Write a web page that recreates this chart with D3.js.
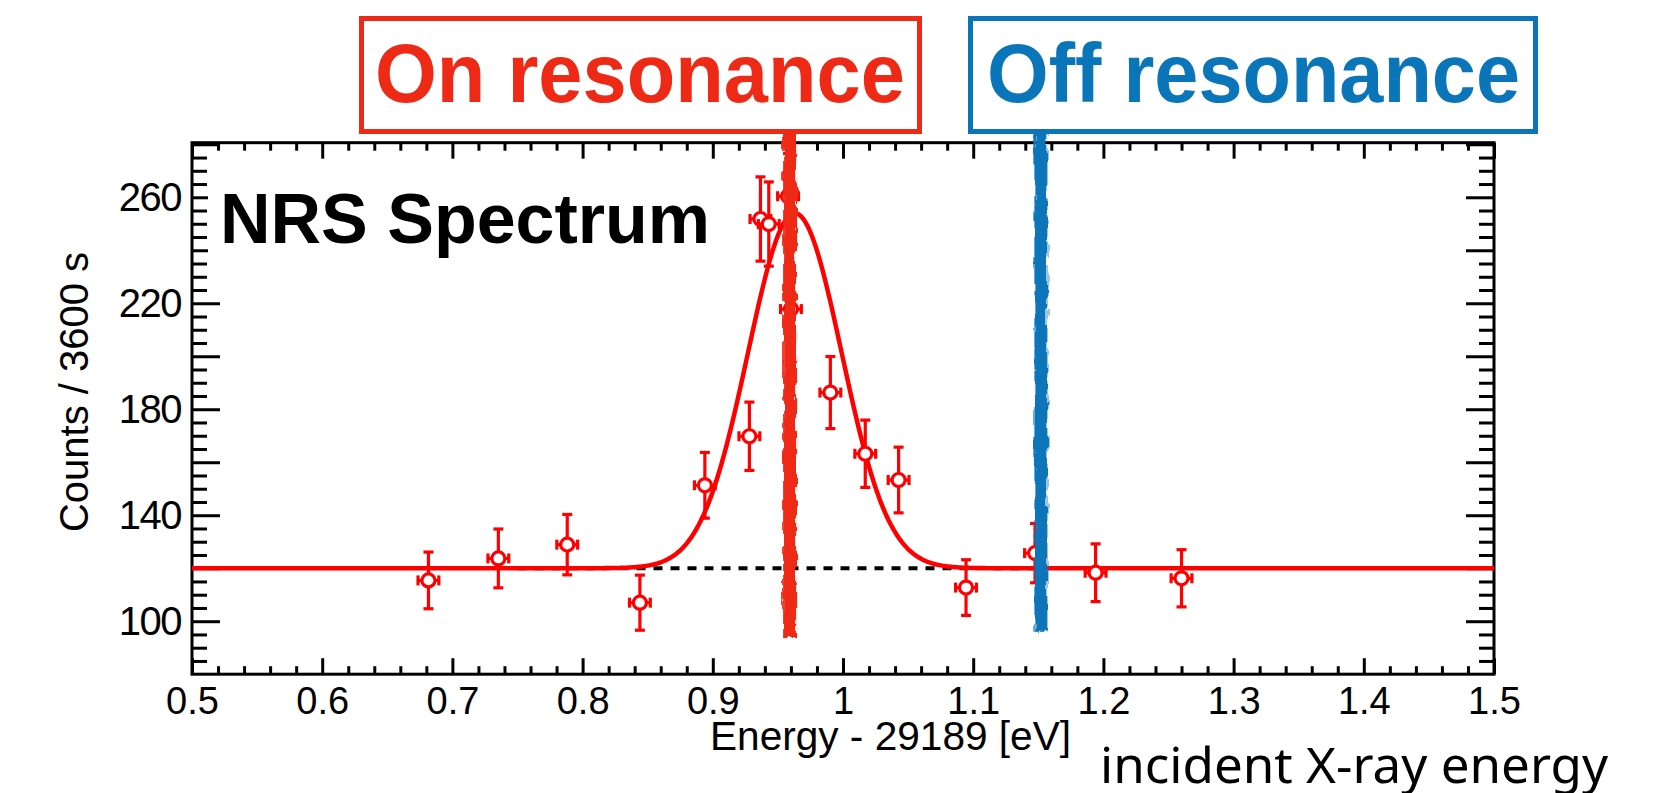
<!DOCTYPE html>
<html>
<head>
<meta charset="utf-8">
<script src="https://cdn.jsdelivr.net/npm/d3@7"></script>
<style>
  html, body { margin: 0; padding: 0; background: #fff; }
  svg { display: block; }
</style>
</head>
<body>
<svg id="chart" width="1670" height="793"></svg>
<script>
// ---------------- DATA ----------------
const energy = [0.6816, 0.7353, 0.7882, 0.8440, 0.8939, 0.9281, 0.9366, 0.9430, 0.9578, 0.9600, 0.9903, 1.0171, 1.0427, 1.0945, 1.1475, 1.1940, 1.2600];
const counts = [115.4, 123.7, 128.9, 107.0, 151.3, 169.8, 251.8, 249.9, 260.4, 217.8, 186.3, 163.2, 153.3, 112.7, 125.7, 118.3, 116.2];
const countErr = [10.7, 11.1, 11.4, 10.4, 12.4, 12.9, 15.9, 15.9, 16.1, 14.7, 13.6, 12.7, 12.4, 10.5, 11.2, 10.9, 10.8];
const energyErr = [0.008, 0.008, 0.008, 0.008, 0.008, 0.008, 0.008, 0.008, 0.008, 0.008, 0.008, 0.008, 0.008, 0.008, 0.008, 0.008, 0.008];

// Gaussian fit on flat background (parameters)
const fitBackground = 120;
const fitAmplitude = 134;
const fitMean = 0.963;
const fitSigma = 0.036;
const backgroundRange = [0.75, 1.15];

// Tick labels
const xTickValues = [0.5, 0.6, 0.7, 0.8, 0.9, 1.0, 1.1, 1.2, 1.3, 1.4, 1.5];
const yTickValues = [100, 120, 140, 160, 180, 200, 220, 240, 260, 280];
const yLabelValues = [100, 140, 180, 220, 260];

// Hand-drawn markers (energy, counts range)
const onResonanceE = 0.959, onResonanceRange = [94, 286];
const offResonanceE = 1.152, offResonanceRange = [96, 285.5];

const titleText = "NRS Spectrum";
const xTitle = "Energy - 29189 [eV]";
const yTitle = "Counts / 3600 s";
const noteText = "incident X-ray energy";
const onLabel = "On resonance";
const offLabel = "Off resonance";

// ---------------- LAYOUT ----------------
const frame = { left: 192, right: 1494, top: 142.7, bottom: 674.2 };
const RED = "#ff0000";
const MARK_RED = "#ee2a16";
const MARK_BLUE = "#0b75b9";

const svg = d3.select("#chart");
const x = d3.scaleLinear().domain([0.5, 1.5]).range([frame.left, frame.right]);
const y = d3.scaleLinear().domain([80, 280.6]).range([frame.bottom, frame.top]);

const defs = svg.append("defs");
const filt = defs.append("filter").attr("id", "rough")
  .attr("x", "-100%").attr("y", "-5%").attr("width", "300%").attr("height", "110%");
filt.append("feTurbulence").attr("type", "fractalNoise")
  .attr("baseFrequency", "0.25 0.06").attr("numOctaves", 2).attr("seed", 4).attr("result", "noise");
filt.append("feDisplacementMap").attr("in", "SourceGraphic").attr("in2", "noise")
  .attr("scale", 7).attr("xChannelSelector", "R").attr("yChannelSelector", "G");

// ---------------- AXES ----------------
const xMinor = d3.range(52, 150, 2).filter(v => v % 10 !== 0).map(v => v / 100);
const yMinor = d3.range(85, 281, 5).filter(v => v % 20 !== 0);
const fmtX = d => String(+d.toFixed(1));

function styleAxis(g) {
  g.select(".domain").remove();
  g.selectAll(".tick line").attr("stroke", "#000").attr("stroke-width", 3);
  g.selectAll(".tick text").attr("fill", "#000");
}

// bottom
svg.append("g").attr("transform", `translate(0,${frame.bottom})`)
  .call(d3.axisBottom(x).tickValues(xTickValues).tickSize(-16).tickSizeOuter(0).tickPadding(13).tickFormat(fmtX))
  .call(styleAxis)
  .call(g => g.selectAll(".tick text").attr("font-family", "Liberation Sans, Arial, sans-serif").attr("font-size", 38));
svg.append("g").attr("transform", `translate(0,${frame.bottom})`)
  .call(d3.axisBottom(x).tickValues(xMinor).tickSize(-8).tickSizeOuter(0).tickFormat(""))
  .call(styleAxis);
// top
svg.append("g").attr("transform", `translate(0,${frame.top})`)
  .call(d3.axisTop(x).tickValues(xTickValues).tickSize(-16).tickSizeOuter(0).tickFormat(""))
  .call(styleAxis);
svg.append("g").attr("transform", `translate(0,${frame.top})`)
  .call(d3.axisTop(x).tickValues(xMinor).tickSize(-8).tickSizeOuter(0).tickFormat(""))
  .call(styleAxis);
// left
svg.append("g").attr("transform", `translate(${frame.left},0)`)
  .call(d3.axisLeft(y).tickValues(yTickValues).tickSize(-28).tickSizeOuter(0).tickPadding(11)
    .tickFormat(d => yLabelValues.includes(d) ? String(d) : ""))
  .call(styleAxis)
  .call(g => g.selectAll(".tick text").attr("font-family", "Liberation Sans, Arial, sans-serif")
    .attr("font-size", 40).attr("letter-spacing", "-1.5px"));
svg.append("g").attr("transform", `translate(${frame.left},0)`)
  .call(d3.axisLeft(y).tickValues(yMinor).tickSize(-15).tickSizeOuter(0).tickFormat(""))
  .call(styleAxis);
// right
svg.append("g").attr("transform", `translate(${frame.right},0)`)
  .call(d3.axisRight(y).tickValues(yTickValues).tickSize(-28).tickSizeOuter(0).tickFormat(""))
  .call(styleAxis);
svg.append("g").attr("transform", `translate(${frame.right},0)`)
  .call(d3.axisRight(y).tickValues(yMinor).tickSize(-15).tickSizeOuter(0).tickFormat(""))
  .call(styleAxis);

// white pave behind the title (hides the inner ends of the long ticks)
svg.append("rect").attr("x", frame.left + 16).attr("y", 162).attr("width", 480).attr("height", 118).attr("fill", "#fff");

// frame
svg.append("rect")
  .attr("x", frame.left).attr("y", frame.top)
  .attr("width", frame.right - frame.left).attr("height", frame.bottom - frame.top)
  .attr("fill", "none").attr("stroke", "#000").attr("stroke-width", 3);

// ---------------- FIT ----------------
svg.append("line")
  .attr("x1", x(backgroundRange[0])).attr("x2", x(backgroundRange[1]))
  .attr("y1", y(fitBackground)).attr("y2", y(fitBackground))
  .attr("stroke", "#000").attr("stroke-width", 4).attr("stroke-dasharray", "9,8");

const fitE = d3.range(0, 1001).map(i => 0.5 + i / 1000);
const gauss = e => fitBackground + fitAmplitude * Math.exp(-((e - fitMean) ** 2) / (2 * fitSigma * fitSigma));
svg.append("path")
  .datum(fitE)
  .attr("d", d3.line().x(e => x(e)).y(e => y(gauss(e))))
  .attr("fill", "none").attr("stroke", RED).attr("stroke-width", 4.5);

// ---------------- DATA POINTS ----------------
const pts = energy.map((e, i) => ({ e, c: counts[i], dc: countErr[i], de: energyErr[i] }));
const pg = svg.append("g").attr("stroke", RED).attr("stroke-width", 3.2);
pts.forEach(p => {
  const cx = x(p.e), cy = y(p.c);
  const yT = y(p.c + p.dc), yB = y(p.c - p.dc);
  const xL = x(p.e - p.de), xR = x(p.e + p.de);
  pg.append("line").attr("x1", cx).attr("x2", cx).attr("y1", yT).attr("y2", yB);
  pg.append("line").attr("x1", cx - 5).attr("x2", cx + 5).attr("y1", yT).attr("y2", yT);
  pg.append("line").attr("x1", cx - 5).attr("x2", cx + 5).attr("y1", yB).attr("y2", yB);
  pg.append("line").attr("x1", xL).attr("x2", xR).attr("y1", cy).attr("y2", cy);
  pg.append("line").attr("x1", xL).attr("x2", xL).attr("y1", cy - 5).attr("y2", cy + 5);
  pg.append("line").attr("x1", xR).attr("x2", xR).attr("y1", cy - 5).attr("y2", cy + 5);
  pg.append("circle").attr("cx", cx).attr("cy", cy).attr("r", 6.5).attr("fill", "#fff");
});

// ---------------- HAND-DRAWN MARKS ----------------
svg.append("rect")
  .attr("x", x(onResonanceE) - 6.5).attr("width", 13)
  .attr("y", y(onResonanceRange[1])).attr("height", y(onResonanceRange[0]) - y(onResonanceRange[1]))
  .attr("fill", MARK_RED).attr("filter", "url(#rough)");
svg.append("rect")
  .attr("x", x(offResonanceE) - 6.5).attr("width", 13)
  .attr("y", y(offResonanceRange[1])).attr("height", y(offResonanceRange[0]) - y(offResonanceRange[1]))
  .attr("fill", MARK_BLUE).attr("filter", "url(#rough)");

// ---------------- TEXT ----------------
svg.append("text").attr("x", 220).attr("y", 243)
  .attr("font-family", "Liberation Sans, Arial, sans-serif").attr("font-weight", "bold")
  .attr("font-size", 70).attr("fill", "#000").text(titleText);

svg.append("text").attr("x", 710).attr("y", 750)
  .attr("font-family", "Liberation Sans, Arial, sans-serif").attr("font-size", 40)
  .attr("textLength", 361).attr("lengthAdjust", "spacingAndGlyphs")
  .attr("fill", "#000").text(xTitle);

svg.append("text")
  .attr("transform", "translate(88,392) rotate(-90)")
  .attr("text-anchor", "middle")
  .attr("font-family", "Liberation Sans, Arial, sans-serif").attr("font-size", 40)
  .attr("fill", "#000").text(yTitle);

svg.append("text").attr("x", 1100).attr("y", 783)
  .attr("font-family", "Noto Sans, Open Sans, sans-serif").attr("font-size", 50)
  .attr("textLength", 508).attr("lengthAdjust", "spacingAndGlyphs")
  .attr("fill", "#000").text(noteText);

// label boxes
svg.append("rect").attr("x", 361.5).attr("y", 18.5).attr("width", 558).attr("height", 113)
  .attr("fill", "#fff").attr("stroke", MARK_RED).attr("stroke-width", 5);
svg.append("text").attr("x", 375).attr("y", 102)
  .attr("font-family", "Liberation Sans, Arial, sans-serif").attr("font-weight", "bold")
  .attr("font-size", 83).attr("textLength", 530).attr("lengthAdjust", "spacingAndGlyphs")
  .attr("fill", MARK_RED).text(onLabel);

svg.append("rect").attr("x", 970.5).attr("y", 18.5).attr("width", 565).attr("height", 113)
  .attr("fill", "#fff").attr("stroke", MARK_BLUE).attr("stroke-width", 5);
svg.append("text").attr("x", 987).attr("y", 102)
  .attr("font-family", "Liberation Sans, Arial, sans-serif").attr("font-weight", "bold")
  .attr("font-size", 83).attr("textLength", 533).attr("lengthAdjust", "spacingAndGlyphs")
  .attr("fill", MARK_BLUE).text(offLabel);
</script>
</body>
</html>
